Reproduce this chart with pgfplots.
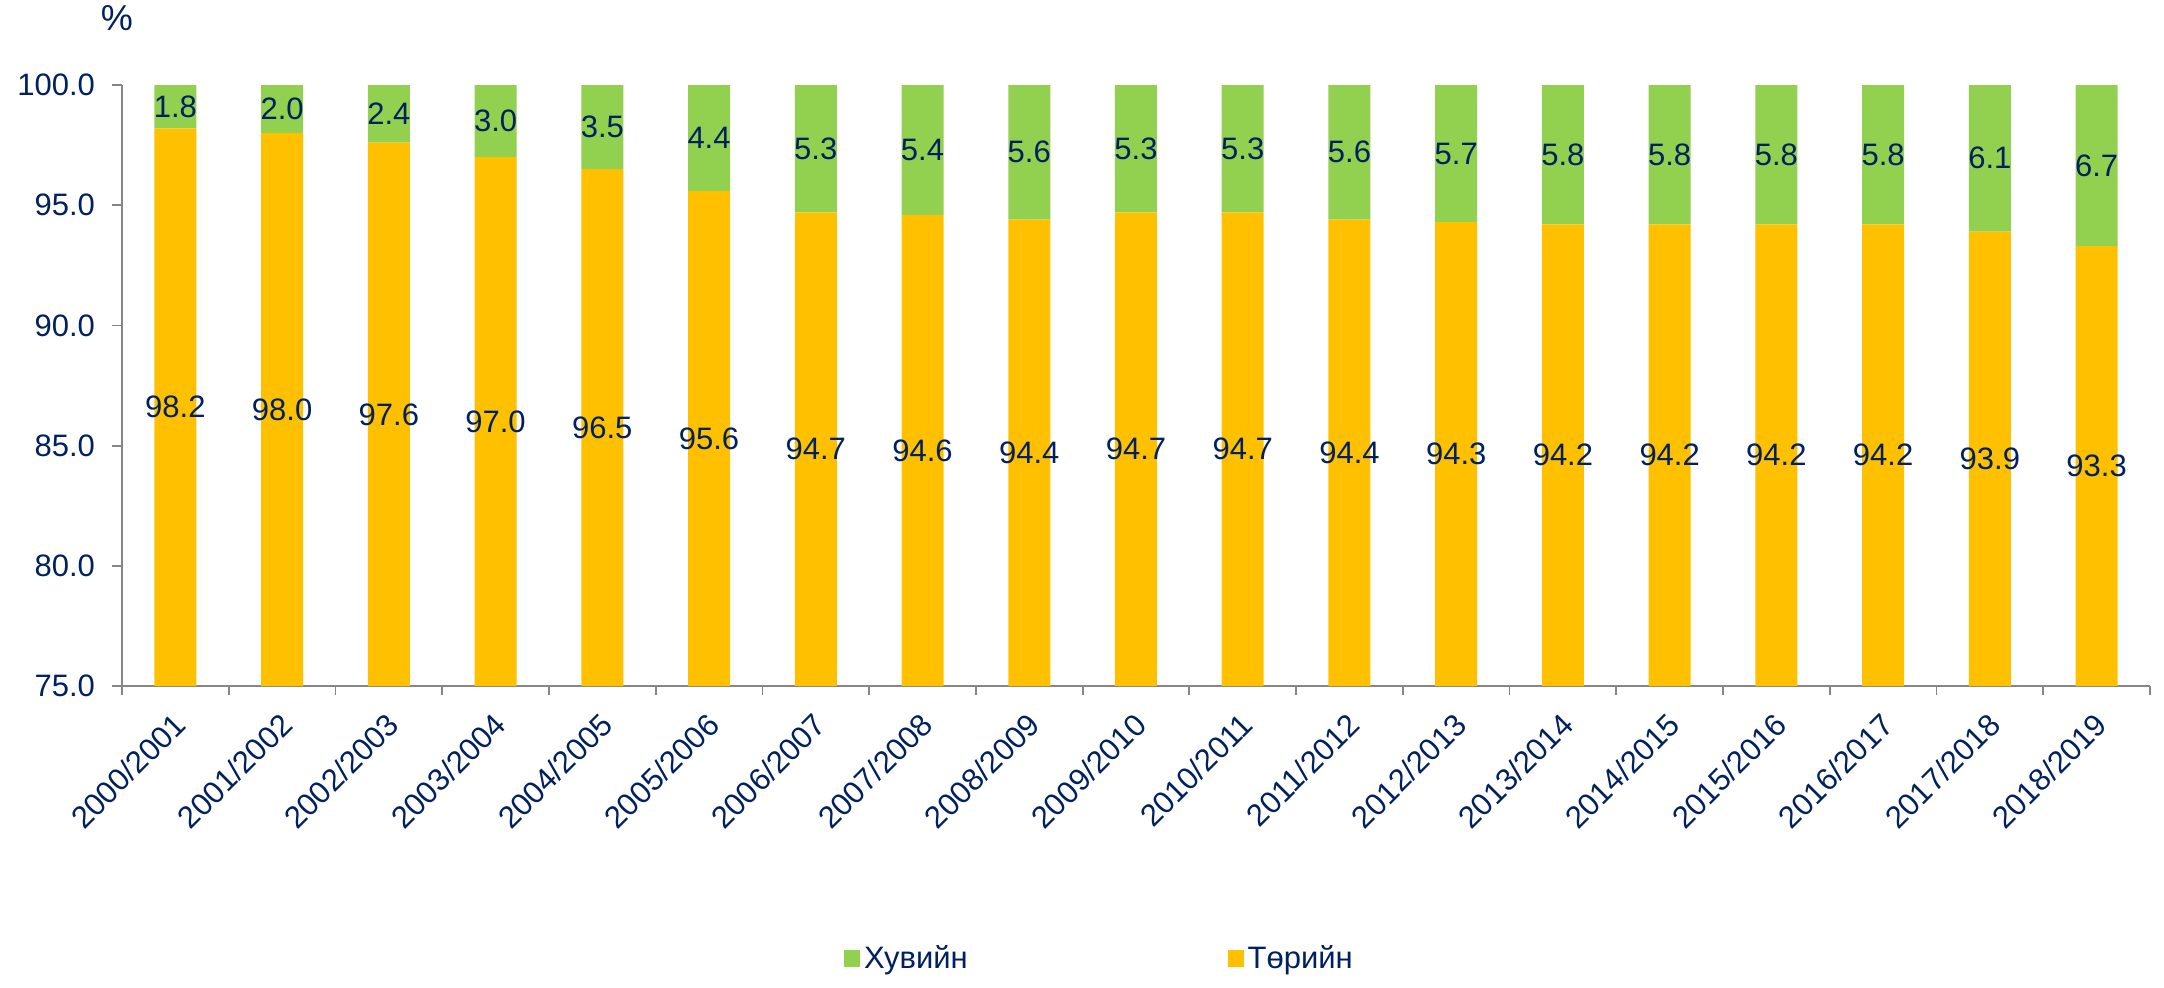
\documentclass[border=0pt]{standalone}
\usepackage{fontspec}
\setmainfont{Liberation Sans}
\usepackage{pgfplots}
\usepackage{pgfplotstable}
\pgfplotsset{compat=1.18}
\definecolor{govc}{HTML}{FFC000}
\definecolor{privc}{HTML}{92D050}
\definecolor{navy}{HTML}{002060}
\definecolor{axgray}{HTML}{868686}

\pgfplotstableread{
x gov priv ygov ypriv
0 98.2 1.8 86.6 99.1
1 98.0 2.0 86.5 99.0
2 97.6 2.4 86.3 98.8
3 97.0 3.0 86.0 98.5
4 96.5 3.5 85.75 98.25
5 95.6 4.4 85.3 97.8
6 94.7 5.3 84.85 97.35
7 94.6 5.4 84.8 97.3
8 94.4 5.6 84.7 97.2
9 94.7 5.3 84.85 97.35
10 94.7 5.3 84.85 97.35
11 94.4 5.6 84.7 97.2
12 94.3 5.7 84.65 97.15
13 94.2 5.8 84.6 97.1
14 94.2 5.8 84.6 97.1
15 94.2 5.8 84.6 97.1
16 94.2 5.8 84.6 97.1
17 93.9 6.1 84.45 96.95
18 93.3 6.7 84.15 96.65
}\datatable

\begin{document}
\begin{tikzpicture}
\pgfplotsset{common/.style={
  scale only axis, width=1014pt, height=300.5pt,
  xmin=-0.5, xmax=18.5, ymin=75, ymax=100,
  /pgf/number format/assume math mode=true,
  font=\fontsize{15.5}{18}\selectfont}}
\begin{axis}[common,
  ybar stacked, bar width=21pt,
  axis x line*=bottom, axis y line*=left,
  axis line style={-, draw=axgray, line width=0.9pt},
  tick style={draw=axgray, line width=0.9pt},
  tick align=outside,
  major tick length=5pt, minor tick length=4.5pt,
  major x tick style={draw=none},
  ytick={75,80,85,90,95,100},
  yticklabel style={text=navy, xshift=-5pt, /pgf/number format/fixed, /pgf/number format/fixed zerofill, /pgf/number format/precision=1},
  xtick={0,...,18},
  minor xtick={-0.5,0.5,...,18.5},
  xticklabels={2000/2001,2001/2002,2002/2003,2003/2004,2004/2005,2005/2006,2006/2007,2007/2008,2008/2009,2009/2010,2010/2011,2011/2012,2012/2013,2013/2014,2014/2015,2015/2016,2016/2017,2017/2018,2018/2019},
  xticklabel style={text=navy, rotate=45, anchor=north east, yshift=-0.5pt, xshift=-3pt},
  title={\%}, title style={text=navy, font=\fontsize{18}{20}\selectfont, at={(axis description cs:0,1)}, anchor=base, yshift=21.5pt, xshift=-2.5pt},
  legend style={at={(0.353,-0.454)}, anchor=west, draw=none, fill=none, text=navy,
    font=\fontsize{15.5}{18}\selectfont, legend columns=2,
    /tikz/every even column/.append style={column sep=128pt}},
  legend cell align=left,
]
\coordinate (O) at (rel axis cs:0,0);
\addplot[fill=govc, draw=none, forget plot] table[x=x, y=gov] {\datatable};
\addplot[fill=privc, draw=none, forget plot] table[x=x, y=priv] {\datatable};
\addlegendimage{legend image code/.code={\fill[privc] (0pt,-4pt) rectangle (7.5pt,4pt);}}
\addlegendentry{Хувийн}
\addlegendimage{legend image code/.code={\fill[govc] (0pt,-4pt) rectangle (7.5pt,4pt);}}
\addlegendentry{Төрийн}
\end{axis}
\begin{axis}[common, hide axis]
\addplot[only marks, mark=*, mark size=0pt, mark options={draw=none, fill=none},
  point meta=explicit, nodes near coords,
  nodes near coords style={text=navy, anchor=center, font=\fontsize{15.5}{18}\selectfont,
    /pgf/number format/fixed, /pgf/number format/fixed zerofill, /pgf/number format/precision=1}]
  table[x=x, y=ygov, meta=gov] {\datatable};
\addplot[only marks, mark=*, mark size=0pt, mark options={draw=none, fill=none},
  point meta=explicit, nodes near coords,
  nodes near coords style={text=navy, anchor=center, font=\fontsize{15.5}{18}\selectfont,
    /pgf/number format/fixed, /pgf/number format/fixed zerofill, /pgf/number format/precision=1}]
  table[x=x, y=ypriv, meta=priv] {\datatable};
\end{axis}
\pgfresetboundingbox
\path[use as bounding box] ([shift={(-61pt,-150.5pt)}]O) rectangle ++(1082pt,493.5pt);
\end{tikzpicture}
\end{document}
